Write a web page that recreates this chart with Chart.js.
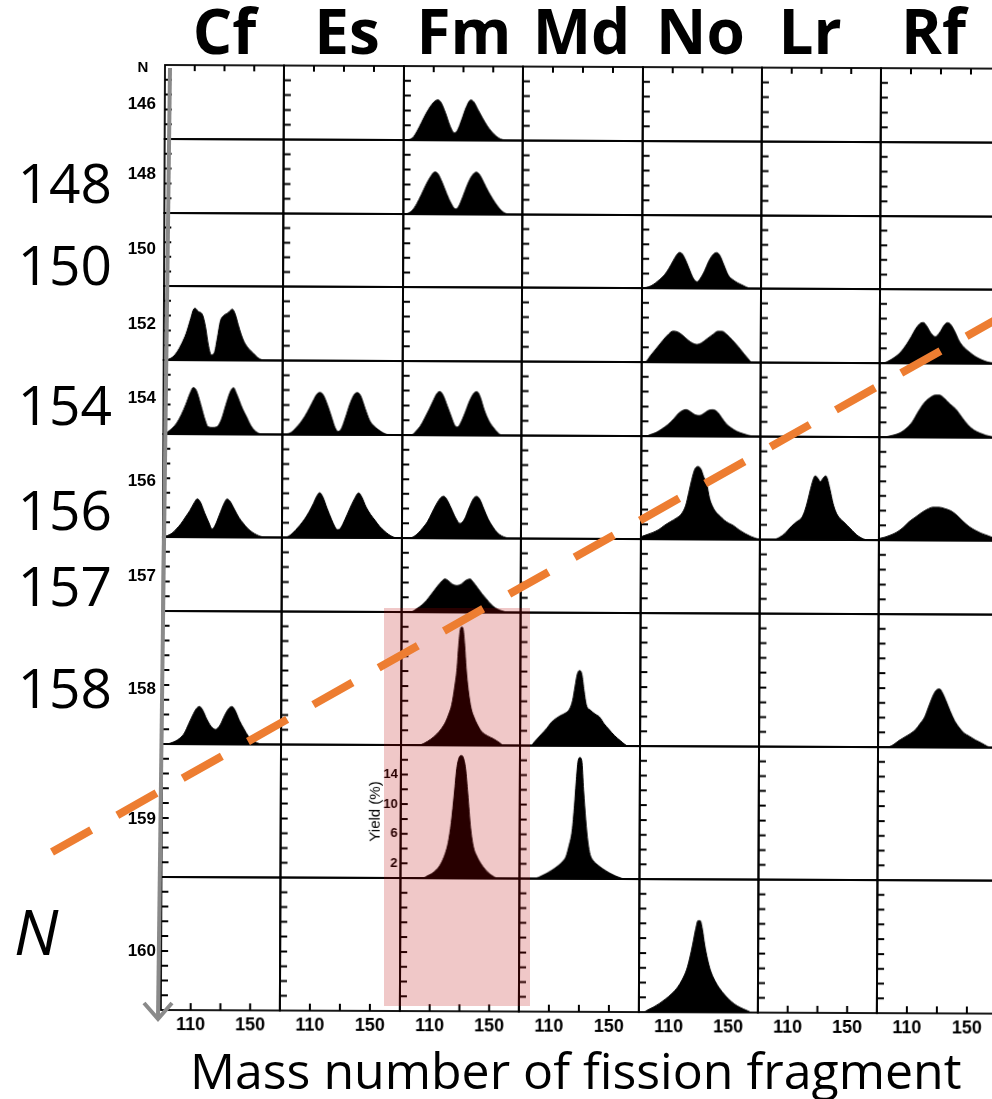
<!DOCTYPE html>
<html>
<head>
<meta charset="utf-8">
<script src="https://cdn.jsdelivr.net/npm/chart.js@4.4.1/dist/chart.umd.min.js"></script>
<style>
  body { margin: 0; background: #fff; }
  #page { position: relative; width: 992px; height: 1099px; overflow: hidden; background: #fff; }
  #grid { position: absolute; left: 0; top: 0; width: 992px; height: 1099px; transform-origin: 165px 65px; transform: rotate(0.25deg); }
  #grid canvas { position: absolute; }
  #overlay { position: absolute; left: 0; top: 0; }
  .lbl { position: absolute; white-space: nowrap; line-height: 1; color: #000; }
</style>
</head>
<body>
<div id="page">
  <div id="grid"></div>
  <canvas id="overlay" width="992" height="1099"></canvas>
</div>
<script>
// columns = elements, rows = neutron number N
const elements = ['Cf', 'Es', 'Fm', 'Md', 'No', 'Lr', 'Rf'];
const neutrons = [146, 148, 150, 152, 154, 156, 157, 158, 159, 160];
const rowMaxYield = [10, 10, 10, 10, 10, 14, 10, 18, 18, 18];
const massRange = [90, 170];
const massTicks = [110, 130, 150];
const massLabels = [110, 150];
const yieldLabels = [2, 6, 10, 14];
const bigRowLabels = [148, 150, 154, 156, 157, 158];

// fission fragment mass yields, [mass number, yield %]
const fm146 = [[90,0],[93,0.05],[96,0.3],[99,1.2],[102,2.4],[105,3.6],[108,4.6],[111,5.3],[113,5.45],[115,5.1],[118,3.7],[121,2.0],[124,1.0],[126,1.3],[129,2.8],[132,4.5],[135,5.45],[137,5.2],[140,4.1],[143,3.0],[146,2.0],[149,1.2],[152,0.6],[155,0.2],[158,0.03],[161,0],[170,0]];
const fm148 = [[90,0],[93,0.1],[96,0.5],[99,1.4],[102,2.6],[105,3.9],[108,5.0],[111,5.7],[113,5.5],[116,4.3],[119,2.8],[122,1.5],[125,0.7],[127,1.0],[130,2.4],[133,4.0],[136,5.2],[139,5.7],[141,5.4],[144,4.3],[147,3.1],[150,2.1],[153,1.2],[156,0.5],[159,0.1],[162,0],[170,0]];
const no150 = [[90,0],[93,0.1],[96,0.3],[99,0.7],[102,1.2],[105,1.8],[108,2.7],[111,3.8],[113,4.5],[115,4.9],[117,4.7],[120,3.5],[123,2.0],[125,1.2],[127,0.9],[129,1.3],[132,2.4],[135,3.8],[138,4.7],[140,4.9],[142,4.6],[145,3.2],[148,1.8],[151,1.2],[154,0.8],[157,0.5],[160,0.2],[163,0],[170,0]];
const cf152 = [[90,0],[93,0.1],[96,0.4],[99,1.1],[102,2.2],[105,3.6],[108,5.6],[110,6.9],[111,7.0],[113,6.6],[116,6.1],[118,4.5],[120,2.0],[122,0.7],[124,1.0],[126,3.0],[128,5.3],[130,6.0],[133,6.4],[136,6.9],[138,6.2],[140,4.8],[142,3.5],[144,2.5],[147,1.6],[150,1.0],[153,0.4],[156,0.05],[158,0],[170,0]];
const no152 = [[90,0],[92,0],[96,0.9],[100,1.9],[104,2.9],[108,3.8],[111,4.2],[114,4.1],[117,3.7],[121,3.0],[124,2.6],[127,2.4],[130,2.6],[134,3.2],[138,3.8],[141,4.2],[144,4.2],[147,3.8],[151,3.0],[155,2.1],[159,1.1],[162,0.4],[164,0],[170,0]];
const rf152 = [[90,0],[92,0],[96,0.3],[100,0.8],[104,1.5],[108,2.6],[111,3.6],[114,4.7],[117,5.4],[119,5.5],[121,5.1],[124,4.1],[127,3.6],[130,4.2],[133,5.2],[135,5.5],[137,5.3],[140,4.3],[143,3.0],[146,2.2],[150,1.5],[154,0.9],[158,0.5],[162,0.2],[166,0.05],[170,0]];
const cf154 = [[90,0],[93,0.3],[96,0.8],[99,1.5],[102,2.6],[105,4.0],[108,5.6],[110,6.3],[112,5.9],[115,4.0],[118,1.9],[120,1.0],[123,0.9],[126,1.0],[129,2.0],[132,4.0],[135,5.8],[137,6.3],[139,5.5],[141,4.5],[143,3.5],[146,2.3],[149,1.1],[152,0.4],[155,0.05],[157,0],[170,0]];
const es154 = [[90,0],[93,0.05],[96,0.3],[99,0.9],[102,1.6],[105,2.5],[108,3.6],[111,4.8],[113,5.5],[115,5.7],[117,5.4],[120,4.0],[123,2.2],[125,1.0],[127,0.45],[129,0.7],[132,2.3],[135,4.2],[138,5.5],[140,5.7],[142,5.3],[145,3.6],[148,2.0],[151,1.2],[154,0.7],[157,0.3],[160,0.05],[162,0],[170,0]];
const fm154 = [[90,0],[96,0],[99,0.5],[102,1.2],[105,2.3],[108,3.5],[111,4.8],[113,5.6],[115,5.9],[117,5.5],[120,4.0],[123,2.4],[125,1.4],[127,1.1],[129,1.6],[132,3.0],[135,4.6],[138,5.7],[140,5.9],[142,5.3],[145,3.4],[148,2.0],[151,1.1],[154,0.4],[157,0],[170,0]];
const no154 = [[90,0],[93,0],[96,0.2],[100,0.5],[104,1.0],[108,1.6],[112,2.4],[115,3.1],[118,3.5],[120,3.6],[123,3.3],[126,2.9],[129,2.8],[132,3.1],[135,3.5],[138,3.6],[141,3.3],[144,2.5],[147,1.7],[150,1.2],[154,0.7],[158,0.4],[162,0.15],[166,0],[170,0]];
const rf154 = [[90,0],[92,0],[96,0.1],[100,0.3],[104,0.6],[108,1.2],[112,2.1],[116,3.5],[120,4.7],[124,5.4],[127,5.7],[130,5.7],[133,5.3],[137,4.5],[141,3.8],[145,2.7],[149,1.7],[153,1.0],[157,0.6],[161,0.3],[165,0.1],[168,0],[170,0]];
const cf156 = [[90,0],[93,0.2],[96,0.5],[99,1.1],[102,1.8],[105,2.7],[108,3.6],[111,4.7],[113,5.2],[115,4.8],[118,3.3],[121,1.9],[123,1.1],[125,1.6],[128,3.1],[131,4.6],[133,5.2],[135,4.9],[138,3.8],[141,2.7],[144,1.9],[147,1.2],[150,0.7],[153,0.35],[156,0.1],[159,0],[170,0]];
const es156 = [[90,0],[93,0.05],[96,0.4],[99,1.0],[102,1.7],[105,2.5],[108,3.5],[111,4.7],[113,5.6],[115,6.1],[117,5.6],[120,4.0],[123,2.5],[125,1.6],[127,1.1],[129,1.3],[132,2.5],[135,3.9],[138,5.2],[141,6.1],[143,5.6],[146,4.2],[149,3.2],[152,2.4],[155,1.6],[158,1.0],[161,0.5],[164,0.15],[167,0],[170,0]];
const fm156 = [[90,0],[95,0],[98,0.2],[101,0.7],[104,1.4],[107,2.2],[110,3.4],[113,4.6],[116,5.5],[118,5.7],[120,5.3],[123,4.1],[126,2.8],[129,2.0],[132,2.6],[135,4.1],[138,5.4],[140,5.7],[142,5.4],[145,4.0],[148,2.6],[151,1.6],[154,0.8],[157,0.35],[160,0.1],[162,0],[170,0]];
const no156 = [[90,0.3],[94,0.6],[98,0.9],[102,1.3],[106,1.9],[110,2.4],[114,2.9],[117,3.4],[120,4.6],[122,6.3],[124,8.1],[126,9.5],[128,9.9],[130,9.6],[132,8.5],[134,7.6],[136,5.6],[138,4.5],[140,3.8],[143,3.2],[146,2.6],[149,2.2],[152,1.9],[156,1.3],[160,0.8],[164,0.4],[168,0.1],[170,0]];
const lr156 = [[90,0],[99,0],[103,0.3],[107,0.9],[111,1.8],[115,2.5],[118,3.0],[120,3.9],[122,5.3],[124,7.0],[126,8.4],[127,8.7],[129,8.3],[130.5,7.9],[132,8.3],[134,8.7],[135,8.4],[137,6.8],[139,5.0],[141,3.8],[143,3.1],[146,2.5],[149,1.9],[152,1.3],[155,0.7],[158,0.3],[161,0.05],[163,0],[170,0]];
const rf156 = [[90,0.2],[94,0.4],[98,0.7],[102,1.1],[106,1.7],[110,2.5],[114,3.1],[118,3.7],[122,4.2],[126,4.5],[130,4.5],[134,4.3],[138,4.0],[142,3.4],[146,2.6],[150,1.9],[154,1.4],[158,1.0],[162,0.7],[166,0.4],[170,0.2]];
const fm157 = [[90,0],[96,0],[99,0.3],[102,0.7],[105,1.2],[108,1.9],[111,2.7],[114,3.5],[117,4.2],[119,4.5],[121,4.3],[124,3.8],[127,3.6],[130,3.8],[133,4.3],[136,4.5],[138,4.1],[141,3.3],[144,2.5],[147,1.8],[150,1.1],[153,0.6],[156,0.3],[159,0.1],[161,0],[170,0]];
const cf158 = [[90,0],[93,0],[96,0.15],[99,0.4],[102,0.8],[105,1.5],[108,2.8],[111,4.1],[113,4.8],[115,5.1],[117,4.7],[120,3.4],[123,2.4],[126,2.0],[129,2.6],[132,3.9],[135,4.9],[137,5.1],[139,4.6],[142,3.2],[145,2.1],[148,1.1],[151,0.5],[154,0.2],[157,0],[170,0]];
const fm158 = [[90,0],[102,0],[106,0.3],[110,0.8],[114,1.5],[117,2.2],[120,3.2],[122,4.2],[124,5.5],[126,8.0],[127.5,10.5],[128.5,13.5],[129.5,15.6],[130.5,16.0],[131.5,15.6],[132.5,13.5],[133.5,10.5],[135,7.5],[137,5.0],[139,3.8],[141,2.9],[144,1.9],[148,1.3],[152,0.9],[156,0.4],[159,0],[170,0]];
const md158 = [[90,0],[97,0],[100,0.6],[104,1.5],[108,2.4],[111,3.2],[114,3.7],[117,4.1],[120,4.4],[123,5.0],[125,6.2],[126.5,8.0],[128,9.7],[129.5,10.2],[131,9.7],[132.5,7.5],[134,5.6],[137,4.8],[140,4.3],[143,3.9],[146,3.0],[149,2.3],[153,1.4],[157,0.7],[160,0.2],[162,0],[170,0]];
const rf158 = [[90,0],[96,0],[100,0.3],[104,0.9],[108,1.4],[112,1.9],[115,2.4],[118,3.2],[121,4.1],[124,5.7],[127,7.2],[129,7.8],[131,7.9],[133,7.3],[135,6.4],[138,4.9],[141,3.6],[144,2.7],[147,2.0],[151,1.5],[155,1.0],[159,0.6],[163,0.15],[165,0],[170,0]];
const fm159 = [[90,0],[105,0],[108,0.3],[111,0.6],[114,1.1],[117,1.9],[120,3.3],[122,4.8],[124,7.5],[126,11.5],[127.5,14.8],[129,16.3],[130.5,16.6],[132,16.3],[133.5,14.8],[135,11.5],[137,6.8],[139,4.2],[141,3.1],[144,2.0],[147,1.2],[150,0.6],[153,0.2],[155,0],[170,0]];
const md159 = [[90,0],[100,0],[104,0.3],[108,0.7],[112,1.2],[116,1.8],[119,2.4],[121,3.0],[123,4.5],[125,6.5],[126.5,10],[127.5,13],[128.8,16],[130,16.4],[131.2,16],[132.5,12],[134,8],[135.5,5],[137,3.3],[139,2.5],[142,1.9],[146,1.3],[150,0.8],[154,0.4],[158,0.1],[160,0],[170,0]];
const no160 = [[90,0],[93,0],[96,0.3],[100,0.7],[104,1.2],[108,1.8],[112,2.5],[116,3.4],[119,4.4],[122,5.8],[124,7.3],[126,9.2],[128,11.3],[129.5,12.4],[131,12.4],[132.5,11.2],[134,9.2],[136,7.2],[138,5.7],[141,4.3],[144,3.3],[148,2.3],[152,1.5],[156,0.9],[160,0.5],[164,0.15],[166,0],[170,0]];

const panelCurves = [
  ['Fm', 146, fm146], ['Fm', 148, fm148], ['No', 150, no150],
  ['Cf', 152, cf152], ['No', 152, no152], ['Rf', 152, rf152],
  ['Cf', 154, cf154], ['Es', 154, es154], ['Fm', 154, fm154], ['No', 154, no154], ['Rf', 154, rf154],
  ['Cf', 156, cf156], ['Es', 156, es156], ['Fm', 156, fm156], ['No', 156, no156], ['Lr', 156, lr156], ['Rf', 156, rf156],
  ['Fm', 157, fm157],
  ['Cf', 158, cf158], ['Fm', 158, fm158], ['Md', 158, md158], ['Rf', 158, rf158],
  ['Fm', 159, fm159], ['Md', 159, md159],
  ['No', 160, no160]
];

// layout of the panel grid
const GRID_LEFT = 165, GRID_TOP = 65, COL_W = 119.4, PX_PER_PCT = 7.38, PAD = 3;
const AXIS_H = 30, YAXIS_W = 34;
const tickFont = { family: 'Liberation Sans', weight: 'bold', size: 18 };

const colEdges = elements.map((e, i) => Math.round(GRID_LEFT + i * COL_W)).concat(Math.round(GRID_LEFT + elements.length * COL_W));
const rowEdges = [GRID_TOP];
rowMaxYield.forEach(m => rowEdges.push(rowEdges[rowEdges.length - 1] + m * PX_PER_PCT));
const rowPx = rowEdges.map(v => Math.round(v));

function framePlugin(isTop, isBottom) {
  return {
    id: 'panelFrame',
    afterDraw(chart) {
      const { ctx, chartArea: a, scales: { x, y } } = chart;
      ctx.save();
      ctx.strokeStyle = '#000';
      ctx.lineWidth = 1.8;
      ctx.strokeRect(a.left, a.top, a.right - a.left, a.bottom - a.top);
      ctx.lineWidth = 2;
      ctx.beginPath();
      for (let v = 2; v < y.max; v += 2) {
        const py = y.getPixelForValue(v);
        ctx.moveTo(a.left, py);
        ctx.lineTo(a.left + 7, py);
      }
      massTicks.forEach(m => {
        const px = x.getPixelForValue(m);
        if (isTop) { ctx.moveTo(px, a.top); ctx.lineTo(px, a.top + 6); }
        if (isBottom) { ctx.moveTo(px, a.bottom); ctx.lineTo(px, a.bottom - 7); }
      });
      ctx.stroke();
      ctx.restore();
    }
  };
}

const grid = document.getElementById('grid');

neutrons.forEach((n, r) => {
  elements.forEach((el, c) => {
    const isTop = r === 0;
    const isBottom = r === neutrons.length - 1;
    const found = panelCurves.find(p => p[0] === el && p[1] === n);
    const withYieldAxis = el === 'Fm' && n === 159;

    const w = colEdges[c + 1] - colEdges[c];
    const h = rowPx[r + 1] - rowPx[r];
    const extraLeft = withYieldAxis ? YAXIS_W : 0;
    const extraBottom = isBottom ? AXIS_H : 0;

    const canvas = document.createElement('canvas');
    canvas.width = w + 2 * PAD + extraLeft;
    canvas.height = h + 2 * PAD + extraBottom;
    canvas.style.left = (colEdges[c] - PAD - extraLeft) + 'px';
    canvas.style.top = (rowPx[r] - PAD) + 'px';
    grid.appendChild(canvas);

    const datasets = found ? [{
      data: found[2].map(([x, y]) => ({ x, y })),
      fill: 'origin',
      backgroundColor: '#000',
      borderColor: '#000',
      borderWidth: 1,
      pointRadius: 0,
      cubicInterpolationMode: 'monotone'
    }] : [];

    new Chart(canvas, {
      type: 'line',
      data: { datasets },
      options: {
        responsive: false,
        animation: false,
        events: [],
        layout: { padding: PAD },
        plugins: { legend: { display: false }, tooltip: { enabled: false } },
        scales: {
          x: {
            type: 'linear',
            min: massRange[0],
            max: massRange[1],
            display: isBottom,
            grid: { display: false, drawTicks: false },
            border: { display: false },
            afterFit: s => {
              if (!isBottom) return;
              s.height = AXIS_H;
              s.paddingLeft = 0;
              s.paddingRight = 0;
            },
            ticks: {
              stepSize: 20,
              autoSkip: false,
              maxRotation: 0,
              padding: 4,
              color: '#000',
              font: tickFont,
              callback: v => massLabels.includes(v) ? String(v) : ''
            }
          },
          y: {
            type: 'linear',
            min: 0,
            max: rowMaxYield[r],
            display: withYieldAxis,
            grid: { display: false, drawTicks: false },
            border: { display: false },
            afterFit: s => {
              if (!withYieldAxis) return;
              s.width = YAXIS_W;
              s.paddingTop = 0;
              s.paddingBottom = 0;
            },
            title: {
              display: withYieldAxis,
              text: 'Yield (%)',
              color: '#000',
              padding: 0,
              font: { family: 'Liberation Sans', size: 15 }
            },
            ticks: {
              stepSize: 2,
              autoSkip: false,
              padding: 3,
              color: '#000',
              font: { family: 'Liberation Sans', weight: 'bold', size: 13 },
              callback: v => yieldLabels.includes(v) ? String(v) : ''
            }
          }
        }
      },
      plugins: [framePlugin(isTop, isBottom)]
    });
  });
});

// added highlights: shaded Fm column, dashed guide line, N arrow
const ov = document.getElementById('overlay').getContext('2d');
ov.fillStyle = 'rgba(185,0,0,0.216)';
ov.fillRect(384, 608, 146, 398);

ov.strokeStyle = '#ED7D31';
ov.lineWidth = 8;
ov.setLineDash([45, 30]);
ov.beginPath();
ov.moveTo(52, 852);
ov.lineTo(1010, 311.7);
ov.stroke();

ov.setLineDash([]);
ov.strokeStyle = '#8a8a8a';
ov.lineWidth = 4;
ov.beginPath();
ov.moveTo(170, 68);
ov.lineTo(158, 1017);
ov.stroke();
ov.beginPath();
ov.moveTo(144, 1003);
ov.lineTo(158, 1019);
ov.lineTo(172, 1003);
ov.stroke();

// text labels
const page = document.getElementById('page');
function addLabel(text, x, baseline, o) {
  const d = document.createElement('div');
  d.className = 'lbl';
  d.textContent = text;
  const asc = o.family === 'Open Sans' ? 0.888 : 0.8465;
  d.style.fontFamily = "'" + o.family + "', sans-serif";
  d.style.fontSize = o.size + 'px';
  d.style.fontWeight = o.weight || 400;
  if (o.italic) d.style.fontStyle = 'italic';
  d.style.left = x + 'px';
  d.style.top = (baseline - asc * o.size) + 'px';
  if (o.align === 'center') d.style.transform = 'translateX(-50%)';
  if (o.align === 'right') d.style.transform = 'translateX(-100%)';
  page.appendChild(d);
}

const colLabelX = [224.5, 347, 464, 581.5, 700.5, 810, 933.5];
elements.forEach((el, i) => addLabel(el, colLabelX[i], 54, { family: 'Open Sans', size: 62, weight: 700, align: 'center' }));

const smallRowY = [103, 173, 248, 323, 397, 480, 575, 688, 818, 950];
neutrons.forEach((n, i) => addLabel(String(n), 156, smallRowY[i] + 6, { family: 'Liberation Sans', size: 17, weight: 700, align: 'right' }));
addLabel('N', 143, 72, { family: 'Liberation Sans', size: 15, weight: 700, align: 'center' });

const bigRowY = [183, 265, 405, 510, 586, 688];
bigRowLabels.forEach((n, i) => addLabel(String(n), 112, bigRowY[i] + 20, { family: 'Open Sans', size: 55, align: 'right' }));
addLabel('N', 14, 955, { family: 'Open Sans', size: 63, italic: true });
addLabel('Mass number of fission fragment', 190, 1089, { family: 'Open Sans', size: 50 });
</script>
</body>
</html>
